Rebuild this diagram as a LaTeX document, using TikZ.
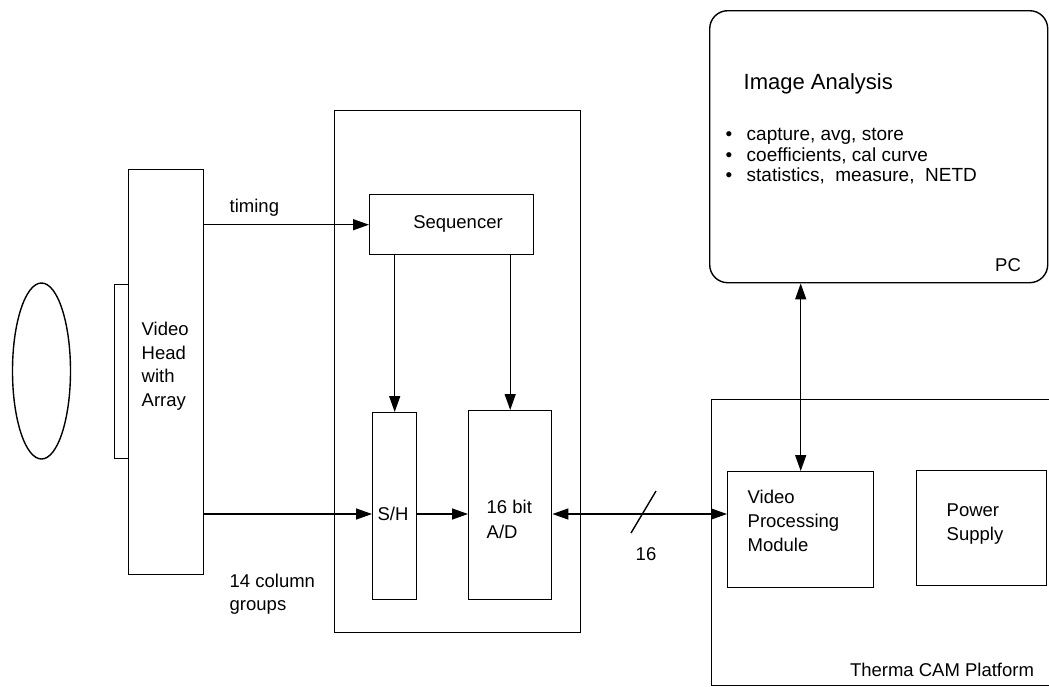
\documentclass[tikz,border=0pt]{standalone}
\usepackage{fontspec}
\setmainfont{Liberation Sans}
\usetikzlibrary{arrows.meta,shapes.geometric,calc}
\begin{document}
\begin{tikzpicture}[x=1pt,y=-1pt,
  line width=1.4pt,
  box/.style={draw, rectangle, inner sep=0pt, anchor=north west},
  txt/.style={font=\fontsize{18.5}{24}\selectfont, inner sep=0pt, align=left},
  arr/.style={-{Triangle[length=16pt,width=11pt]}},
  darr/.style={{Triangle[length=16pt,width=11pt]}-{Triangle[length=16pt,width=11pt]}},
]
\useasboundingbox (0,0) rectangle (1049,686);
\clip (0,0) rectangle (1049,686);

% boxes
\node[draw, ellipse, inner sep=0pt, minimum width=58pt, minimum height=176pt] (lens) at (41.5,371) {};
\node[box, minimum width=14pt, minimum height=174pt] (array) at (114,284) {};
\node[box, minimum width=75pt, minimum height=405pt] (vh) at (128,169) {};
\node[box, minimum width=246pt, minimum height=522pt] (mid) at (334,110) {};
\node[box, minimum width=164pt, minimum height=60pt] (seq) at (369,194) {};
\node[box, minimum width=44pt, minimum height=187pt] (sh) at (372,412) {};
\node[box, minimum width=83pt, minimum height=189pt] (ad) at (468,410) {};
\node[box, rounded corners=18pt, minimum width=338pt, minimum height=272pt] (pc) at (709,10) {};
\node[box, minimum width=360pt, minimum height=286pt] (plat) at (711,399) {};
\node[box, minimum width=146pt, minimum height=116pt] (vpm) at (727,471) {};
\node[box, minimum width=130pt, minimum height=115pt] (ps) at (916,470) {};

% texts
\node[txt, anchor=west, font=\fontsize{18.5}{23.5}\selectfont] (vht) at (141,366) {Video\\Head\\with\\Array};
\node[txt, anchor=west] (timing) at (229,208) {timing};
\node[txt, anchor=west, font=\fontsize{18.5}{23}\selectfont] (cols) at (229,594) {14 column\\groups};
\node[txt] (seqt) at (458,224) {Sequencer};
\node[txt] (sht) at (393,514) {S/H};
\node[txt, anchor=west, font=\fontsize{18.5}{25}\selectfont] (adt) at (486,519.5) {16 bit\\A/D};
\node[txt] (bits) at (646,554) {16};
\node[txt, anchor=west, font=\fontsize{22}{26}\selectfont] (iat) at (743,84) {Image Analysis};
\node[txt, anchor=west, font=\fontsize{19}{20.5}\selectfont] (list) at (725,156.5)
  {\makebox[21pt][l]{\textbullet}capture, avg, store\\
   \makebox[21pt][l]{\textbullet}coefficients, cal curve\\
   \makebox[21pt][l]{\textbullet}statistics,\ \ measure,\ \ NETD};
\node[txt] (pct) at (1008,265) {PC};
\node[txt, anchor=west] (vpmt) at (747,521) {Video\\Processing\\Module};
\node[txt, anchor=west] (pst) at (946,524) {Power\\Supply};
\node[txt] (platt) at (942,670) {Therma CAM Platform};

% connectors
\coordinate (bus) at (0,514);
\draw[arr] (vh.east |- seq.west) -- (seq.west);
\draw[arr] (vh.east |- bus) -- (sh.west |- bus);
\draw[arr] (sh.east |- bus) -- (ad.west |- bus);
\draw[darr] (ad.east |- bus) -- (vpm.west |- bus);
\draw[arr] (seq.south -| sh.north) -- (sh.north);
\draw[arr] (seq.south -| ad.north) -- (ad.north);
\draw[darr] (pc.south -| vpm.north) -- (vpm.north);

% bus width mark
\coordinate (sl) at (643.5,512);
\draw ($(sl)+(-12.5,21)$) -- ($(sl)+(12.5,-21)$);
\end{tikzpicture}
\end{document}
